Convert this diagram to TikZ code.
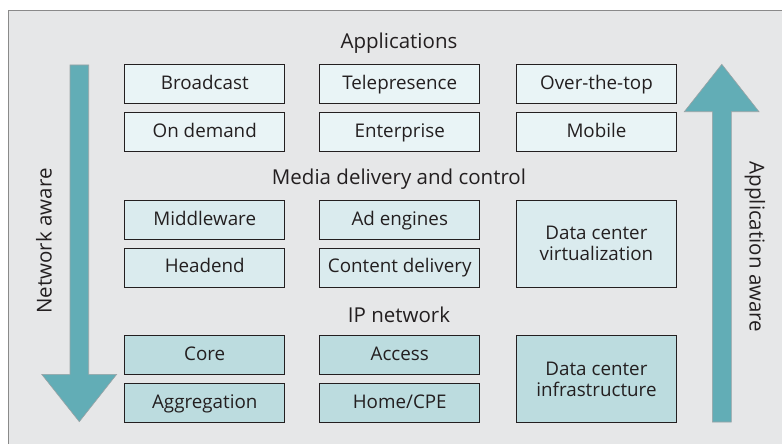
\documentclass[tikz,border=0pt]{standalone}
\usepackage{fontspec}
\setmainfont{Open Sans}
\definecolor{bgc}{HTML}{E6E7E8}
\definecolor{framec}{HTML}{8A8A8A}
\definecolor{appc}{HTML}{E9F4F6}
\definecolor{medc}{HTML}{DAEBEE}
\definecolor{ipc}{HTML}{BCDCDF}
\definecolor{arrc}{HTML}{62ADB6}
\definecolor{arrl}{HTML}{9AA3A5}
\definecolor{txtc}{HTML}{231F20}
\begin{document}
\begin{tikzpicture}[x=1pt,y=-1pt,
  every node/.style={text=txtc},
  boxfont/.style={font=\fontsize{18.8}{21}\selectfont},
  headfont/.style={font=\fontsize{20.5}{23}\selectfont},
  bx/.style={boxfont, draw=txtc, line width=0.9pt, minimum width=160pt, minimum height=39pt, inner sep=0pt, anchor=north west, text height=14pt, text depth=3.5pt},
  bigbx/.style={boxfont, draw=txtc, line width=0.9pt, minimum width=160pt, minimum height=86.7pt, inner sep=0pt, anchor=north west, align=center},
  appbox/.style={bx, fill=appc},
  medbox/.style={bx, fill=medc},
  ipbox/.style={bx, fill=ipc},
  head/.style={headfont, anchor=center},
  arrowshape/.style={fill=arrc, draw=arrl, line width=0.6pt}]
\useasboundingbox (0,0) rectangle (782,444);
\fill[bgc] (8,11) rectangle (790,452);
\draw[framec, line width=1pt] (790,11) -- (8,11) -- (8,452);

\node[head] (happ) at (399,43) {Applications};
\node[head] (hmed) at (399,179) {Media delivery and control};
\node[head] (hip) at (399,315) {IP network};

\node[appbox] (broadcast) at (124.3,64.3) {Broadcast};
\node[appbox] (tele) at (319.3,64.3) {Telepresence};
\node[appbox] (ott) at (516,64.3) {Over-the-top};
\node[appbox] (ondemand) at (124.3,112.3) {On demand};
\node[appbox] (enterprise) at (319.3,112.3) {Enterprise};
\node[appbox] (mobile) at (516,112.3) {Mobile};

\node[medbox] (middleware) at (124.3,200) {Middleware};
\node[medbox] (adeng) at (319.3,200) {Ad engines};
\node[medbox] (headend) at (124.3,247.7) {Headend};
\node[medbox] (content) at (319.3,247.7) {Content delivery};
\node[bigbx, fill=medc] (dcv) at (516,200) {Data center\\virtualization};

\node[ipbox] (core) at (124.3,335.3) {Core};
\node[ipbox] (access) at (319.3,335.3) {Access};
\node[ipbox] (aggr) at (124.3,383) {Aggregation};
\node[ipbox] (home) at (319.3,383) {Home/CPE};
\node[bigbx, fill=ipc] (dci) at (516,335.3) {Data center\\infrastructure};

% left down arrow
\draw[arrowshape] (70,65) -- (88.7,65) -- (88.7,374.3) -- (116.7,374.3) -- (79.3,421.7) -- (41.7,374.3) -- (70,374.3) -- cycle;
% right up arrow
\draw[arrowshape] (712.3,422) -- (731.3,422) -- (731.3,111.7) -- (759,111.7) -- (721.8,64.3) -- (684.3,111.7) -- (712.3,111.7) -- cycle;

\node[headfont, rotate=90] (netaware) at (44,241) {Network aware};
\node[headfont, rotate=-90] (appaware) at (755,247) {Application aware};
\end{tikzpicture}
\end{document}
